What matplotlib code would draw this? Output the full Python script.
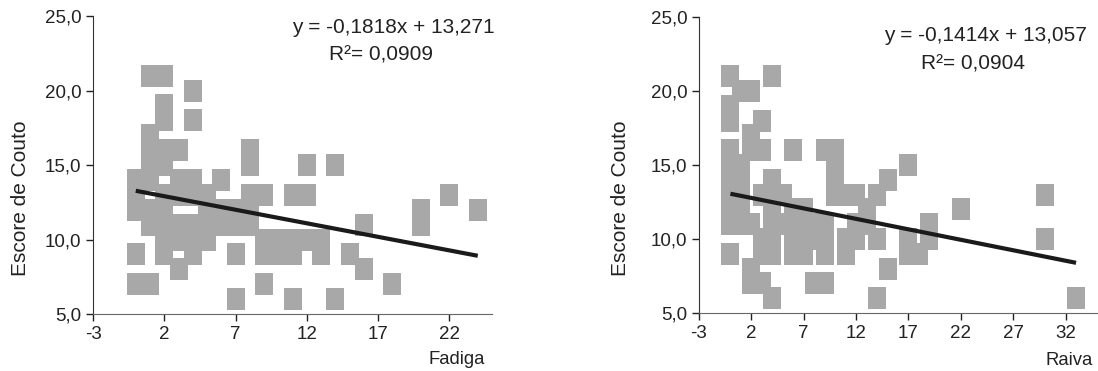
import numpy as np
import matplotlib
matplotlib.use("Agg")
import matplotlib.pyplot as plt

plt.rcParams['font.family'] = ['Liberation Sans', 'DejaVu Sans']
plt.rcParams['axes.unicode_minus'] = False

# Fadiga vs Escore de Couto
fadiga_x = [1, 2, 4, 2, 2, 4, 1, 1, 2, 3, 8, 1, 2, 8, 12, 14,
            0, 1, 3, 4, 6,
            0, 2, 3, 4, 5, 8, 9, 11, 12, 22,
            0, 1, 2, 5, 6, 7, 8, 20, 24,
            1, 2, 3, 4, 5, 6, 7, 8, 16, 20,
            2, 3, 4, 5, 9, 10, 11, 12, 13,
            0, 2, 4, 7, 9, 10, 11, 13, 15,
            3, 16,
            0, 1, 9, 18,
            7, 11, 14]
fadiga_y = [21, 21, 20, 19, 18, 18, 17, 16, 16, 16, 16, 15, 15, 15, 15, 15,
            14, 14, 14, 14, 14,
            13, 13, 13, 13, 13, 13, 13, 13, 13, 13,
            12, 12, 12, 12, 12, 12, 12, 12, 12,
            11, 11, 11, 11, 11, 11, 11, 11, 11, 11,
            10, 10, 10, 10, 10, 10, 10, 10, 10,
            9, 9, 9, 9, 9, 9, 9, 9, 9,
            8, 8,
            7, 7, 7, 7,
            6, 6, 6]

# Raiva vs Escore de Couto
raiva_x = [0, 4, 1, 2, 0, 0, 3, 2, 0, 2, 3, 6, 9, 10,
           0, 1, 10, 17,
           0, 1, 4, 10, 15,
           0, 1, 3, 4, 5, 10, 11, 12, 14, 30,
           0, 1, 4, 6, 7, 13, 22,
           0, 1, 2, 4, 5, 6, 7, 8, 9, 12, 13, 19,
           3, 4, 6, 7, 8, 9, 11, 12, 14, 17, 19, 30,
           0, 3, 4, 6, 7, 9, 11, 17, 18,
           2, 15,
           2, 3, 8, 9,
           4, 14, 33]
raiva_y = [21, 21, 20, 20, 19, 18, 18, 17, 16, 16, 16, 16, 16, 16,
           15, 15, 15, 15,
           14, 14, 14, 14, 14,
           13, 13, 13, 13, 13, 13, 13, 13, 13, 13,
           12, 12, 12, 12, 12, 12, 12,
           11, 11, 11, 11, 11, 11, 11, 11, 11, 11, 11, 11,
           10, 10, 10, 10, 10, 10, 10, 10, 10, 10, 10, 10,
           9, 9, 9, 9, 9, 9, 9, 9, 9,
           8, 8,
           7, 7, 7, 7,
           6, 6, 6]

fit_fadiga = (-0.1818, 13.271)
fit_raiva = (-0.1414, 13.057)
eq_fadiga = ["y = -0,1818x + 13,271", "R²= 0,0909"]
eq_raiva = ["y = -0,1414x + 13,057", "R²= 0,0904"]

y_ticks = [5, 10, 15, 20, 25]
y_labels = ["5,0", "10,0", "15,0", "20,0", "25,0"]

grey = "#a8a8a8"
rect = [(-0.41, -0.5), (0.41, -0.5), (0.41, 0.5), (-0.41, 0.5), (-0.41, -0.5)]

fig = plt.figure(figsize=(10.98, 3.71), dpi=100)
ax1 = fig.add_axes([0.0847, 0.1536, 0.3634, 0.8032])
ax2 = fig.add_axes([0.6366, 0.1563, 0.3625, 0.7980])

panels = [
    (ax1, fadiga_x, fadiga_y, fit_fadiga, eq_fadiga, (-3, 25), range(-3, 23, 5),
     "Fadiga", (0.752, 0.963), (0.722, 0.869), (-0.158, 0.39), (0.982, -0.154)),
    (ax2, raiva_x, raiva_y, fit_raiva, eq_raiva, (-3, 35), range(-3, 33, 5),
     "Raiva", (0.72, 0.939), (0.688, 0.841), (-0.173, 0.389), (0.99, -0.159)),
]

for ax, xs, ys, fit, eq, xlim, xt, xlab, eqpos, r2pos, ylpos, xlpos in panels:
    ax.scatter(xs, ys, marker=rect, s=250, c=grey, linewidths=0, zorder=2)
    xx = np.array([min(xs), max(xs)])
    ax.plot(xx, fit[0] * xx + fit[1], color="#1a1a1a", lw=3, zorder=3,
            solid_capstyle="butt")
    ax.set_xlim(*xlim)
    ax.set_ylim(5, 25)
    ax.set_xticks(list(xt))
    ax.set_yticks(y_ticks)
    ax.set_yticklabels(y_labels)
    for s in ["top", "right"]:
        ax.spines[s].set_visible(False)
    ax.spines["left"].set_color("#333333")
    ax.spines["bottom"].set_color("#666666")
    ax.tick_params(labelsize=13.5, length=5, width=1, colors="#222222")
    ax.set_ylabel("Escore de Couto", fontsize=15, color="#222222")
    ax.yaxis.set_label_coords(*ylpos)
    ax.text(*xlpos, xlab, transform=ax.transAxes, ha="right", va="center",
            fontsize=13.3, color="#222222")
    ax.text(*eqpos, eq[0], transform=ax.transAxes, ha="center", va="center",
            fontsize=15, color="#222222")
    ax.text(*r2pos, eq[1], transform=ax.transAxes, ha="center", va="center",
            fontsize=15, color="#222222")

fig.savefig("out.png", dpi=100)
